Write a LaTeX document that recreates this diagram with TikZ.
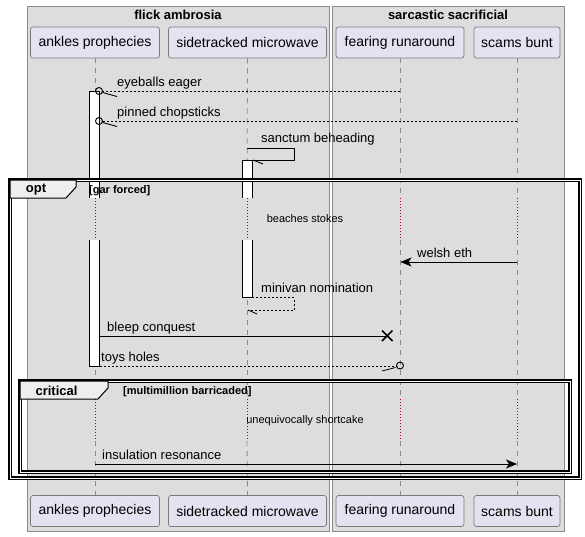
\documentclass[tikz,border=0pt]{standalone}
\usepackage{fontspec}
\setmainfont{Liberation Sans}
\usetikzlibrary{arrows.meta}
\definecolor{boxgray}{HTML}{DDDDDD}
\definecolor{boxline}{HTML}{8A8A8A}
\definecolor{partfill}{HTML}{E2E2F0}
\definecolor{partline}{HTML}{7A7A7A}
\definecolor{lifegray}{HTML}{8A8A8A}
\definecolor{delayred}{HTML}{A80036}
\definecolor{tabfill}{HTML}{EEEEEE}
\tikzset{
  grpbox/.style={draw=boxline, fill=boxgray, line width=0.8pt, inner sep=0pt, anchor=north west},
  part/.style={draw=partline, fill=partfill, rounded corners=2.5pt, line width=0.7pt, inner sep=0pt, font=\fontsize{14}{16}\selectfont},
  lifeline/.style={draw=lifegray, line width=0.8pt, dash pattern=on 5pt off 5pt},
  delayline/.style={draw=delayred, line width=0.8pt, dash pattern=on 1pt off 2pt},
  actbar/.style={fill=white, draw=none},
  actside/.style={draw=black, line width=0.9pt},
  msg/.style={draw=black, line width=0.9pt},
  dmsg/.style={draw=black, line width=0.8pt, dash pattern=on 2pt off 2pt},
  fill arrow/.style={-{Stealth[length=11pt, width=9pt, inset=3pt]}},
  lbl/.style={anchor=base west, inner sep=0pt, font=\fontsize{13}{15}\selectfont},
  small/.style={inner sep=0pt, font=\fontsize{11}{13}\selectfont},
  frame/.style={draw=black, line width=1.1pt, double=white, double distance=0.9pt},
  tab/.style={draw=black, fill=tabfill, line width=1pt},
  tabtxt/.style={inner sep=0pt, font=\bfseries\fontsize{13}{15}\selectfont},
  condtxt/.style={inner sep=0pt, anchor=base west, font=\bfseries\fontsize{11}{13}\selectfont},
  circ/.style={draw=black, line width=0.9pt, fill=none},
}
\begin{document}
\begin{tikzpicture}[x=1pt,y=-1pt]
\useasboundingbox (0,0) rectangle (585,536);
\fill[white] (0,0) rectangle (585,536);

% group boxes
\node[grpbox, minimum width=302pt, minimum height=525pt] (gA) at (27,6) {};
\node[grpbox, minimum width=232pt, minimum height=525pt] (gB) at (332,6) {};
\node[tabtxt] (gAt) at (178,15) {flick ambrosia};
\node[tabtxt] (gBt) at (448,15) {sarcastic sacrificial};

% participants
\node[part, minimum width=129pt, minimum height=31pt] (apT) at (95,42.5) {ankles prophecies};
\node[part, minimum width=158pt, minimum height=31pt] (smT) at (247.5,42.5) {sidetracked microwave};
\node[part, minimum width=128pt, minimum height=31pt] (frT) at (400,42.5) {fearing runaround};
\node[part, minimum width=86pt, minimum height=31pt] (sbT) at (517,42.5) {scams bunt};
\node[part, minimum width=129pt, minimum height=31pt] (apB) at (95,511) {ankles prophecies};
\node[part, minimum width=158pt, minimum height=31pt] (smB) at (247.5,511) {sidetracked microwave};
\node[part, minimum width=128pt, minimum height=31pt] (frB) at (400,511) {fearing runaround};
\node[part, minimum width=86pt, minimum height=31pt] (sbB) at (517,511) {scams bunt};

% lifelines (with delay gaps)
\foreach \p/\x in {ap/95, sm/247, fr/400, sb/517} {
  \coordinate (\p d1a) at (\x,198);
  \coordinate (\p d1b) at (\x,240);
  \coordinate (\p d2a) at (\x,399);
  \coordinate (\p d2b) at (\x,441);
  \draw[lifeline] (\p T.south) -- (\p d1a);
  \draw[lifeline] (\p d1b) -- (\p d2a);
  \draw[lifeline] (\p d2b) -- (\p B.north);
  \draw[delayline] (\p d1a) -- (\p d1b);
  \draw[delayline] (\p d2a) -- (\p d2b);
}

% activation bars
\fill[actbar] (89.5,91) rectangle (99.5,198);
\draw[actside] (89.5,198) -- (89.5,91) -- (99.5,91) -- (99.5,198);
\fill[actbar] (89.5,240) rectangle (99.5,366);
\draw[actside] (89.5,240) -- (89.5,366) -- (99.5,366) -- (99.5,240);
\fill[actbar] (242,160) rectangle (252,198);
\draw[actside] (242,198) -- (242,160) -- (252,160) -- (252,198);
\fill[actbar] (242,240) rectangle (252,297.5);
\draw[actside] (242,240) -- (242,297.5) -- (252,297.5) -- (252,240);

% message 1: eyeballs eager
\coordinate (m1s) at (400,91);
\coordinate (m1e) at (102.5,91);
\draw[dmsg] (m1s) -- (m1e);
\draw[circ] (99,91) circle (3.5pt);
\draw[msg] (102.5,92.5) -- (117,96.5);
\node[lbl] (t1) at (117,86) {eyeballs eager};

% message 2: pinned chopsticks
\coordinate (m2s) at (517,121);
\coordinate (m2e) at (102.5,121);
\draw[dmsg] (m2s) -- (m2e);
\draw[circ] (99,121) circle (3.5pt);
\draw[msg] (102.5,122.5) -- (117,126.5);
\node[lbl] (t2) at (117,116) {pinned chopsticks};

% message 3: sanctum beheading (self)
\coordinate (m3s) at (247,148);
\coordinate (m3e) at (253,160);
\draw[msg] (m3s) -- (294,148) -- (294,160) -- (m3e);
\draw[msg] (253,160) -- (263,164);
\node[lbl] (t3) at (261,142) {sanctum beheading};

% opt frame
\draw[frame] (10,180) rectangle (580,478);
\draw[tab] (10,180) -- (76,180) -- (76,187) -- (66,198) -- (10,198) -- cycle;
\node[tabtxt] (optt) at (36,189.5) {opt};
\node[condtxt] (optc) at (89,193) {[gar forced]};

% delay 1
\node[small] (dl1) at (305,219) {beaches stokes};

% message 4: welsh eth
\coordinate (m4s) at (517,262);
\coordinate (m4e) at (400.5,262);
\draw[msg, fill arrow] (m4s) -- (m4e);
\node[lbl] (t4) at (417,257) {welsh eth};

% message 5: minivan nomination (self, return)
\coordinate (m5s) at (252,297.5);
\coordinate (m5e) at (248,310);
\draw[dmsg] (m5s) -- (294,297.5) -- (294,310) -- (m5e);
\draw[msg, line width=0.8pt] (248,310) -- (257,314);
\node[lbl] (t5) at (261,292) {minivan nomination};

% message 6: bleep conquest (destroy)
\coordinate (m6s) at (99.5,336);
\coordinate (m6e) at (387,336);
\draw[msg] (m6s) -- (m6e);
\draw[black, line width=1.6pt] (382,330.5) -- (392.5,341) (382,341) -- (392.5,330.5);
\node[lbl] (t6) at (107,331) {bleep conquest};

% message 7: toys holes
\coordinate (m7s) at (99.5,366);
\coordinate (m7e) at (396.5,366);
\draw[dmsg] (m7s) -- (m7e);
\draw[circ] (400,365.5) circle (3.5pt);
\draw[msg, line width=0.8pt] (395.5,367.5) -- (382,371);
\node[lbl] (t7) at (101,361) {toys holes};

% critical frame
\draw[frame] (20,381) rectangle (570,472);
\draw[tab] (20,381) -- (108,381) -- (108,388) -- (98,399) -- (20,399) -- cycle;
\node[tabtxt] (critt) at (56.5,390.5) {critical};
\node[condtxt] (critc) at (123,394) {[multimillion barricaded]};

% delay 2
\node[small] (dl2) at (305,421) {unequivocally shortcake};

% message 8: insulation resonance
\coordinate (m8s) at (95,464);
\coordinate (m8e) at (517,464);
\draw[msg, fill arrow] (m8s) -- (m8e);
\node[lbl] (t8) at (102,459) {insulation resonance};
\end{tikzpicture}
\end{document}
